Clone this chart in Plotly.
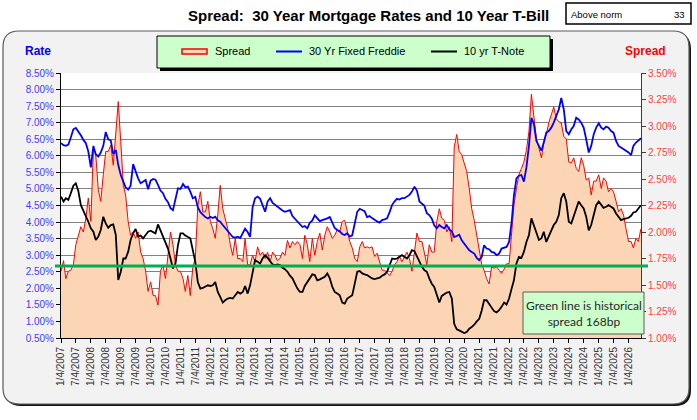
import plotly.graph_objects as go
import pandas as pd

# monthly readings, Jan 2007 .. Jun 2026
months = pd.date_range("2007-01-04", periods=234, freq=pd.DateOffset(months=1))

freddie_30yr = [
    6.38, 6.32, 6.30, 6.34, 6.55, 6.80, 6.84, 6.74, 6.62, 6.48, 6.38, 6.13,
    5.65, 6.30, 6.05, 5.98, 6.10, 6.30, 6.72, 6.50, 6.46, 6.05, 6.18, 5.72,
    5.42, 5.22, 5.05, 4.98, 5.10, 5.75, 5.50, 5.32, 5.17, 5.22, 5.27, 4.99,
    5.25, 5.30, 5.28, 5.12, 4.95, 4.87, 4.70, 4.60, 4.42, 4.36, 4.70, 5.02,
    5.00, 5.15, 5.05, 5.07, 4.92, 4.72, 4.76, 4.45, 4.30, 4.21, 4.15, 4.11,
    4.16, 4.12, 4.16, 4.05, 4.01, 3.91, 3.82, 3.70, 3.61, 3.55, 3.53, 3.56,
    3.52, 3.66, 3.80, 3.70, 3.55, 4.45, 4.72, 4.77, 4.70, 4.51, 4.31, 4.62,
    4.72, 4.58, 4.52, 4.48, 4.41, 4.35, 4.31, 4.33, 4.36, 4.18, 4.10, 4.02,
    3.95, 3.85, 3.88, 3.81, 3.98, 4.05, 4.20, 4.12, 4.03, 4.06, 4.08, 4.11,
    4.15, 3.95, 3.82, 3.76, 3.72, 3.64, 3.61, 3.66, 3.56, 3.60, 3.95, 4.31,
    4.40, 4.37, 4.33, 4.15, 4.18, 4.12, 4.06, 4.02, 3.98, 4.06, 4.08, 4.11,
    4.30, 4.52, 4.62, 4.70, 4.68, 4.72, 4.72, 4.76, 4.82, 4.92, 5.07, 4.95,
    4.62, 4.55, 4.50, 4.27, 4.21, 4.10, 3.90, 3.81, 3.91, 3.85, 3.81, 3.91,
    3.78, 3.72, 3.55, 3.58, 3.62, 3.45, 3.35, 3.25, 3.15, 3.10, 3.05, 2.92,
    2.85, 2.95, 3.30, 3.20, 3.18, 3.10, 3.08, 3.00, 3.05, 3.20, 3.22, 3.25,
    3.40, 4.00, 4.80, 5.32, 5.40, 5.42, 5.22, 5.65, 6.30, 7.15, 6.95, 6.45,
    6.30, 6.15, 6.40, 6.70, 6.75, 6.85, 7.00, 7.20, 7.40, 7.75, 7.40, 6.75,
    6.65, 6.80, 6.90, 7.15, 7.10, 7.00, 6.85, 6.50, 6.10, 6.30, 6.65, 6.85,
    6.98, 6.85, 6.80, 6.88, 6.85, 6.75, 6.70, 6.45, 6.30, 6.25, 6.20, 6.15,
    6.10, 6.02, 6.30, 6.40, 6.48, 6.53,
]

tnote_10yr = [
    4.77, 4.62, 4.72, 4.67, 4.87, 5.10, 5.17, 4.94, 4.51, 4.36, 4.16, 4.01,
    3.81, 3.71, 3.46, 3.56, 3.76, 4.16, 3.96, 3.83, 3.91, 3.93, 3.61, 2.25,
    2.50, 2.90, 2.90, 3.10, 3.46, 3.66, 3.79, 3.56, 3.59, 3.51, 3.61, 3.71,
    3.74, 3.71, 3.66, 3.93, 3.76, 3.56, 3.40, 3.20, 2.90, 2.60, 2.75, 3.30,
    3.66, 3.66, 3.59, 3.56, 3.51, 3.15, 2.80, 2.19, 1.99, 2.01, 2.04, 2.09,
    2.07, 2.09, 2.19, 1.89, 1.74, 1.57, 1.64, 1.69, 1.71, 1.69, 1.79, 1.89,
    1.84, 1.89, 2.07, 1.84, 2.09, 2.52, 2.85, 2.80, 2.75, 2.90, 3.00, 2.92,
    2.80, 2.72, 2.70, 2.72, 2.70, 2.62, 2.58, 2.50, 2.38, 2.30, 2.14, 1.99,
    1.89, 1.89, 2.07, 2.19, 2.30, 2.42, 2.40, 2.24, 2.27, 2.30, 2.35, 2.45,
    2.30, 2.04, 1.89, 1.84, 1.79, 1.57, 1.54, 1.69, 1.74, 1.79, 2.14, 2.50,
    2.52, 2.45, 2.42, 2.40, 2.35, 2.30, 2.28, 2.30, 2.32, 2.38, 2.42, 2.50,
    2.70, 2.90, 2.88, 2.90, 2.95, 3.00, 2.95, 2.90, 3.00, 3.15, 3.12, 2.95,
    2.80, 2.65, 2.55, 2.50, 2.30, 2.14, 2.04, 1.77, 1.57, 1.77, 1.82, 1.87,
    1.89, 1.69, 0.93, 0.76, 0.73, 0.68, 0.65, 0.68, 0.78, 0.83, 0.90, 1.00,
    1.08, 1.34, 1.64, 1.64, 1.54, 1.41, 1.31, 1.27, 1.34, 1.44, 1.57, 1.51,
    1.69, 1.99, 2.24, 2.75, 2.95, 2.92, 3.10, 3.40, 3.61, 4.11, 3.91, 3.66,
    3.46, 3.51, 3.71, 3.40, 3.56, 3.76, 3.91, 4.01, 4.21, 4.72, 4.87, 4.62,
    4.01, 3.96, 4.16, 4.36, 4.62, 4.51, 4.41, 4.16, 3.75, 3.91, 4.26, 4.51,
    4.62, 4.53, 4.43, 4.46, 4.51, 4.46, 4.41, 4.26, 4.16, 4.06, 4.09, 4.11,
    4.13, 4.19, 4.29, 4.31, 4.41, 4.51,
]

spread = [
    1.63, 1.73, 1.56, 1.63, 1.64, 1.69, 1.88, 1.97, 2.05, 2.00, 2.13, 2.32,
    2.10, 2.79, 2.73, 2.40, 2.29, 2.54, 2.76, 2.76, 2.82, 2.63, 2.95, 3.23,
    2.85, 2.44, 2.35, 2.10, 1.97, 2.00, 1.94, 2.00, 1.81, 1.75, 1.63, 1.44,
    1.53, 1.40, 1.40, 1.31, 1.63, 1.69, 1.56, 1.81, 2.00, 1.88, 1.69, 1.63,
    1.63, 1.56, 1.44, 1.59, 1.40, 1.67, 1.75, 2.25, 2.38, 2.19, 2.19, 2.29,
    2.10, 2.03, 1.94, 2.16, 2.44, 2.22, 2.13, 2.03, 1.88, 1.78, 1.94, 1.75,
    1.75, 1.72, 1.94, 1.69, 1.69, 1.78, 1.72, 1.86, 1.78, 1.81, 1.75, 1.81,
    1.72, 1.81, 1.78, 1.73, 1.75, 1.81, 1.78, 1.92, 1.85, 1.91, 1.88, 1.91,
    1.88, 1.75, 1.97, 1.88, 1.72, 1.94, 1.78, 1.91, 1.99, 1.83, 1.97, 2.05,
    2.00, 1.94, 1.97, 2.02, 2.00, 2.10, 2.11, 2.00, 1.91, 1.85, 1.75, 1.72,
    1.86, 1.91, 1.85, 1.86, 1.85, 1.86, 1.77, 1.80, 1.72, 1.64, 1.64, 1.61,
    1.59, 1.63, 1.69, 1.72, 1.77, 1.72, 1.77, 1.81, 1.75, 1.63, 1.81, 1.99,
    1.91, 1.91, 1.81, 1.69, 1.88, 1.81, 1.81, 2.10, 2.22, 2.13, 2.11, 2.00,
    2.05, 1.91, 2.80, 2.92, 2.76, 2.73, 2.65, 2.57, 2.41, 2.22, 2.11, 1.96,
    1.81, 1.69, 1.64, 1.56, 1.51, 1.67, 1.66, 1.67, 1.64, 1.61, 1.65, 1.70,
    1.70, 2.00, 2.25, 2.41, 2.54, 2.60, 2.66, 2.77, 2.95, 3.30, 3.07, 2.88,
    2.79, 2.70, 2.84, 2.92, 3.03, 3.11, 3.18, 3.07, 3.04, 3.03, 2.90, 2.88,
    2.66, 2.65, 2.70, 2.60, 2.57, 2.70, 2.63, 2.49, 2.51, 2.35, 2.48, 2.48,
    2.54, 2.41, 2.51, 2.48, 2.38, 2.41, 2.38, 2.29, 2.19, 2.22, 2.16, 2.03,
    1.91, 1.91, 1.85, 1.94, 1.91, 2.03,
]

tick_dates = [f"{y}-{m:02d}-04" for y in range(2007, 2027) for m in (1, 7)][:-1]
tick_labels = [f"{m}/4/{y}" for y in range(2007, 2027) for m in (1, 7)][:-1]

historical_spread = 1.68
above_norm = 33

FONT = "Liberation Sans, Arial, sans-serif"
W, H = 697, 420
L, R, T, B = 61, 56, 73, 82
PW, PH = W - L - R, H - T - B


# pixel -> paper helpers (for the decoration around the plot)
def px(x):
    return (x - L) / PW


def py(y):
    return (H - B - y) / PH


def rounded(x0, y0, x1, y1, r):
    pts = [("M", x0 + r, y0), ("L", x1 - r, y0), ("Q", x1, y0, x1, y0 + r),
           ("L", x1, y1 - r), ("Q", x1, y1, x1 - r, y1), ("L", x0 + r, y1),
           ("Q", x0, y1, x0, y1 - r), ("L", x0, y0 + r), ("Q", x0, y0, x0 + r, y0)]
    s = ""
    for p in pts:
        cmd, vals = p[0], p[1:]
        coords = []
        for i in range(0, len(vals), 2):
            coords.append(f"{px(vals[i]):.5f},{py(vals[i + 1]):.5f}")
        s += cmd + " ".join(coords) + " "
    return s + "Z"


def box(x0, y0, x1, y1, fill, line="black", lw=1, layer="above"):
    return dict(type="rect", xref="paper", yref="paper", x0=px(x0), x1=px(x1),
                y0=py(y1), y1=py(y0), fillcolor=fill, layer=layer,
                line=dict(color=line, width=lw))


def hline(x0, x1, y, color, lw):
    return dict(type="line", xref="paper", yref="paper", x0=px(x0), x1=px(x1),
                y0=py(y), y1=py(y), layer="above", line=dict(color=color, width=lw))


def label(x, y, text, size=11, color="black", anchor="left", bold=False, family=FONT):
    return dict(xref="paper", yref="paper", x=px(x), y=py(y), text=f"<b>{text}</b>" if bold else text,
                showarrow=False, xanchor=anchor, yanchor="middle",
                font=dict(family=family, size=size, color=color))


fig = go.Figure()

# spread area (right axis) first so the rate lines sit on top
fig.add_trace(go.Scatter(x=months, y=spread, yaxis="y", mode="lines",
                         line=dict(color="rgb(255,0,0)", width=1),
                         fill="tozeroy", fillcolor="rgb(252,213,180)", name="Spread"))
fig.add_trace(go.Scatter(x=months, y=freddie_30yr, yaxis="y2", mode="lines",
                         line=dict(color="rgb(0,0,255)", width=1.8), name="30 Yr Fixed Freddie"))
fig.add_trace(go.Scatter(x=months, y=tnote_10yr, yaxis="y2", mode="lines",
                         line=dict(color="black", width=1.8), name="10 yr T-Note"))

shapes = [
    # gray panel with shadow
    dict(type="path", xref="paper", yref="paper", path=rounded(5, 33, 691, 406, 16),
         fillcolor="rgb(20,20,20)", line=dict(width=0), layer="below"),
    dict(type="path", xref="paper", yref="paper", path=rounded(3, 31, 689, 404, 16),
         fillcolor="rgb(242,242,242)", line=dict(color="rgb(90,90,90)", width=1.2), layer="below"),
    dict(type="rect", xref="paper", yref="paper", x0=0, x1=1, y0=0, y1=1,
         fillcolor="white", line=dict(width=0), layer="below"),
    # legend box
    box(160, 39, 553, 71, "black", lw=0),
    box(157, 36, 550, 68, "rgb(204,255,204)"),
    box(182, 49, 207, 54, "rgb(252,213,180)", line="rgb(255,0,0)", lw=1.5),
    hline(276, 302, 51.5, "rgb(0,0,255)", 2),
    hline(431, 457, 51.5, "black", 2),
    # above norm box
    box(566, 3, 691, 24, "white", lw=1.5),
    # historical spread line
    dict(type="line", xref="paper", yref="y", x0=px(55), x1=px(648),
         y0=historical_spread, y1=historical_spread, layer="above",
         line=dict(color="rgb(0,176,80)", width=3)),
    # note box
    box(523, 292, 644, 334, "rgb(204,255,204)", line="rgb(90,90,90)", lw=1),
]

annotations = [
    label(368, 15.5, "Spread:\u00a0\u00a030 Year Mortgage Rates and 10 Year T-Bill", size=15,
          anchor="center", bold=True),
    label(569, 14, "Above norm", size=9.5),
    label(687, 14, str(above_norm), size=9.5, anchor="right"),
    label(38, 51, "Rate", size=12, color="rgb(0,0,255)", anchor="center", bold=True),
    label(645, 51, "Spread", size=12, color="rgb(255,0,0)", anchor="center", bold=True),
    label(213, 51.5, "Spread"),
    label(307, 51.5, "30 Yr Fixed Freddie"),
    label(462, 51.5, "10 yr T-Note"),
    label(583.5, 313, f"Green line is historical<br>spread {historical_spread * 100:.0f}bp",
          size=12, color="rgb(40,40,40)", anchor="center", family="Lato, Liberation Sans, sans-serif"),
]

fig.update_layout(
    width=W, height=H,
    margin=dict(l=L, r=R, t=T, b=B, pad=0),
    showlegend=False,
    paper_bgcolor="white",
    plot_bgcolor="white",
    shapes=shapes,
    annotations=annotations,
    xaxis=dict(
        type="date",
        range=["2007-01-04", "2026-06-05"],
        tickmode="array", tickvals=tick_dates, ticktext=tick_labels,
        tickangle=-90,
        tickfont=dict(family=FONT, size=10, color="rgb(51,51,51)"),
        ticks="outside", ticklen=4, tickcolor="black",
        showline=True, linecolor="black", linewidth=1,
        showgrid=False, zeroline=False,
    ),
    yaxis=dict(  # spread, right side
        side="right",
        range=[1.0, 3.5], tick0=1.0, dtick=0.25,
        tickformat=".2f", ticksuffix="%",
        tickfont=dict(family=FONT, size=10, color="rgb(255,64,64)"),
        ticks="outside", ticklen=4, tickcolor="rgb(60,60,60)",
        showline=True, linecolor="rgb(60,60,60)", linewidth=1,
        showgrid=False, zeroline=False,
    ),
    yaxis2=dict(  # rates, left side
        overlaying="y", side="left", anchor="x",
        range=[0.5, 8.5], tick0=0.5, dtick=0.5,
        tickformat=".2f", ticksuffix="%",
        tickfont=dict(family=FONT, size=10, color="rgb(64,64,255)"),
        ticks="outside", ticklen=4, tickcolor="black",
        showline=True, linecolor="black", linewidth=1,
        showgrid=True, gridcolor="rgb(128,128,128)", gridwidth=1,
        zeroline=False,
    ),
)

# drop the default page margin so the figure sits at the window's corner
fig.write_html("out.html", config={"displayModeBar": False},
               post_script="document.body.style.margin='0';")
